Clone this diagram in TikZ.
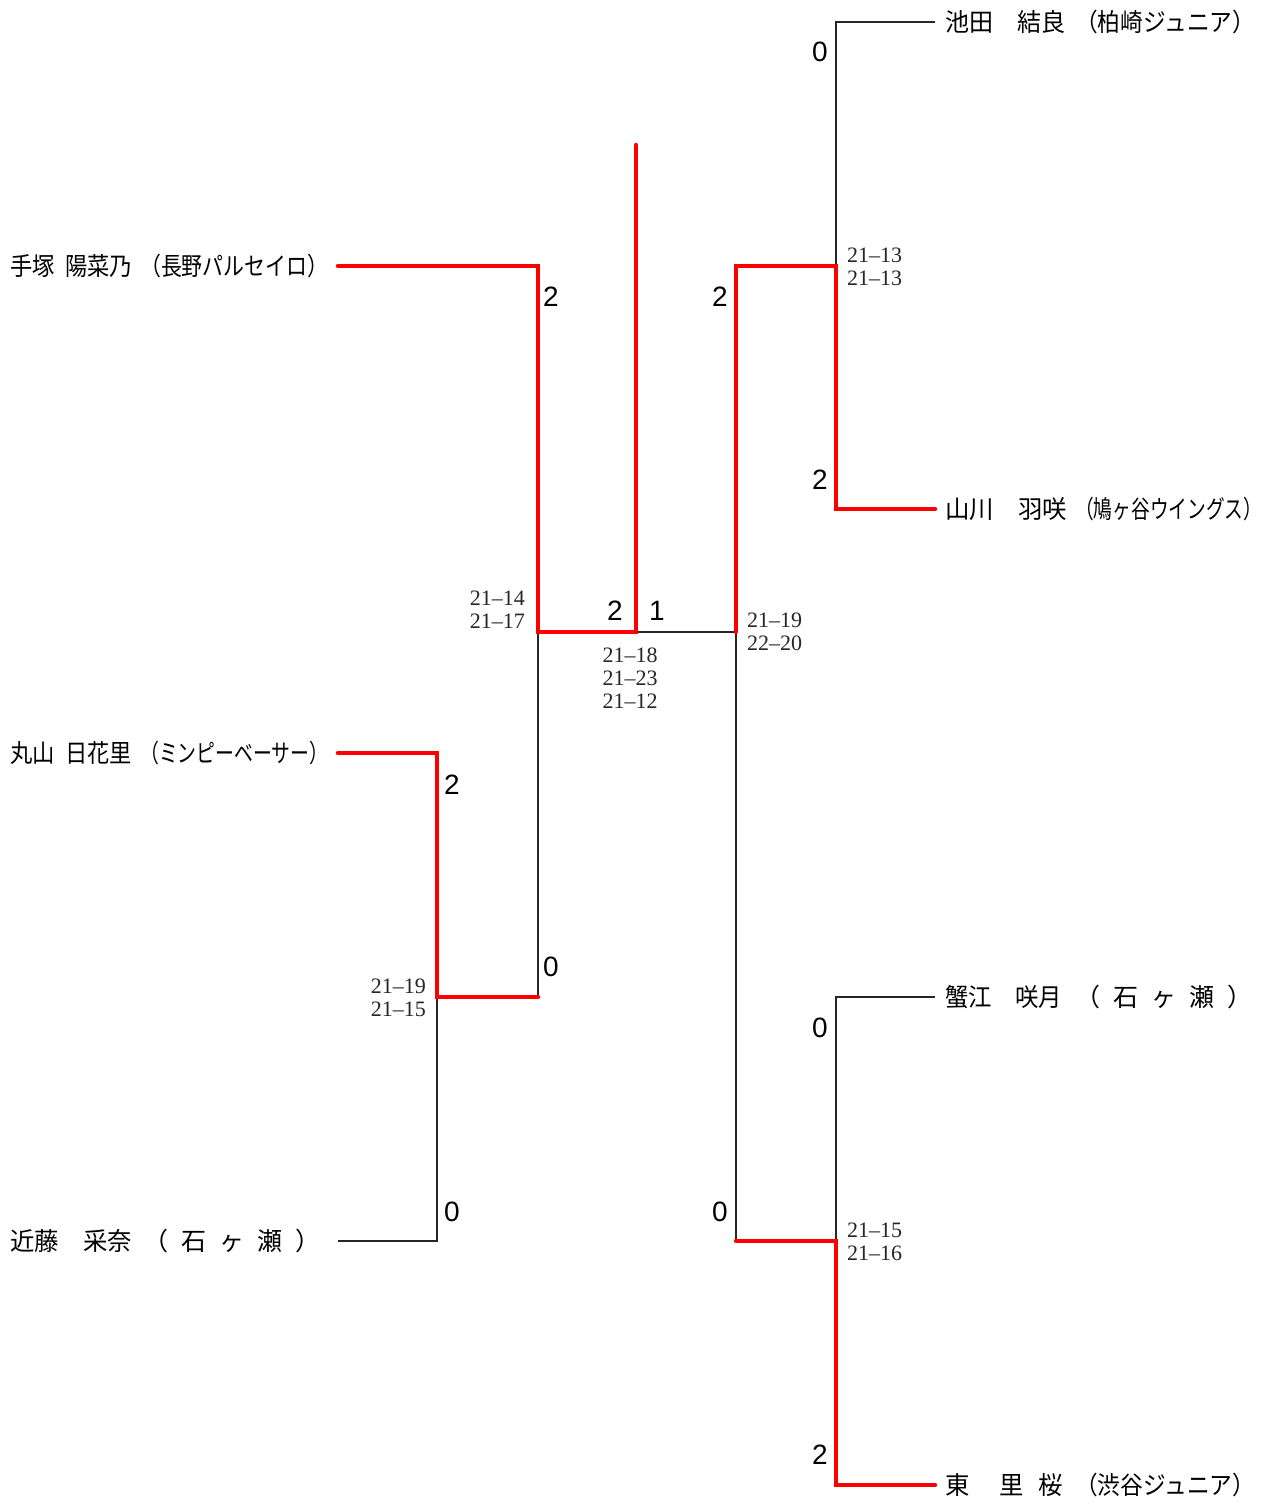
\documentclass[tikz,border=0pt]{standalone}
\usepackage{fontspec}
\setmainfont{Liberation Serif}
\newfontfamily\jpfont{Noto Sans CJK JP}
\newfontfamily\digfont{Liberation Sans}
\newlength\fitlen
\newcommand\fitto[2]{\settowidth\fitlen{#2}\pgfmathsetmacro\fitsx{#1/\fitlen}\scalebox{\fitsx}[1]{#2}}
\begin{document}
\begin{tikzpicture}[x=1pt,y=-1pt,
  loss/.style={line width=1.2pt, black!85},
  win/.style={line width=4.5pt, red, line cap=round, line join=miter},
  pname/.style={font=\jpfont\fontsize{25}{28}\selectfont, inner sep=0pt, anchor=west},
  pts/.style={font=\digfont\fontsize{28}{30}\selectfont, inner sep=0pt},
  game/.style={font=\fontsize{22}{23}\selectfont, inner sep=0pt, text=black!85}]
\useasboundingbox (0,0) rectangle (1265,1506);

% names left
\node[pname] (n1) at (10,266) {\fitto{122pt}{手塚\hspace{12pt}陽菜乃}};
\node[pname] (f1) at (140,266) {\fitto{188pt}{（長野パルセイロ）}};
\node[pname] (n2) at (10,753) {\fitto{122pt}{丸山\hspace{12pt}日花里}};
\node[pname] (f2) at (140,753) {\fitto{188pt}{（ミンピーベーサー）}};
\node[pname] (n3) at (10,1241) {\fitto{122pt}{近藤\hspace{25pt}采奈}};
\node[pname] (f3) at (143,1241) {\makebox[177pt]{（\hfill 石\hfill ヶ\hfill 瀬\hfill ）}};
% names right
\node[pname] (n4) at (945,22) {\fitto{120pt}{池田\hspace{25pt}結良}};
\node[pname] (f4) at (1075,22) {\fitto{180pt}{（柏崎ジュニア）}};
\node[pname] (n5) at (945,509) {\fitto{122pt}{山川\hspace{25pt}羽咲}};
\node[pname] (f5) at (1075,509) {\fitto{187pt}{（鳩ヶ谷ウイングス）}};
\node[pname] (n6) at (945,997) {\fitto{117pt}{蟹江\hspace{25pt}咲月}};
\node[pname] (f6) at (1075,997) {\makebox[177pt]{（\hfill 石\hfill ヶ\hfill 瀬\hfill ）}};
\node[pname] (n7) at (945,1485) {\fitto{118pt}{東\hspace{31pt}里\hspace{15pt}桜}};
\node[pname] (f7) at (1075,1485) {\fitto{180pt}{（渋谷ジュニア）}};

% bracket points
\coordinate (L1) at (338,266);
\coordinate (L2) at (338,753);
\coordinate (L3) at (338,1241);
\coordinate (a1) at (437,753);
\coordinate (a3) at (437,1241);
\coordinate (aw) at (437,997);
\coordinate (b1) at (538,266);
\coordinate (bw) at (538,632);
\coordinate (b2) at (538,997);
\coordinate (f) at (636,632);
\coordinate (ftop) at (636,145);
\coordinate (c1) at (736,266);
\coordinate (cw) at (736,632);
\coordinate (c2) at (736,1241);
\coordinate (d1) at (836,22);
\coordinate (d2) at (836,509);
\coordinate (dw) at (836,266);
\coordinate (R1) at (935,22);
\coordinate (R2) at (935,509);
\coordinate (e1) at (836,997);
\coordinate (e2) at (836,1485);
\coordinate (ew) at (836,1241);
\coordinate (R3) at (935,997);
\coordinate (R4) at (935,1485);

% losing lines
\draw[loss] (L3) -- (a3) -- (aw);
\draw[loss] (b2) -- (bw);
\draw[loss] (f) -- (cw) -- (c2);
\draw[loss] (R1) -- (d1) -- (dw);
\draw[loss] (R3) -- (e1) -- (ew);

% winning lines
\draw[win] (L1) -- (b1) -- (bw) -- (f) -- (ftop);
\draw[win] (L2) -- (a1) -- (aw) -- (b2);
\draw[win] (R2) -- (d2) -- (dw) -- (c1) -- (cw);
\draw[win] (R4) -- (e2) -- (ew) -- (c2);

% match points
\node[pts] (p1) at (551,297) {2};
\node[pts] (p2) at (551,967) {0};
\node[pts] (p3) at (452,785) {2};
\node[pts] (p4) at (452,1212) {0};
\node[pts] (p5) at (615,611) {2};
\node[pts] (p6) at (657,611) {1};
\node[pts] (p7) at (720,297) {2};
\node[pts] (p8) at (720,1212) {0};
\node[pts] (p9) at (820,52) {0};
\node[pts] (p10) at (820,480) {2};
\node[pts] (p11) at (820,1028) {0};
\node[pts] (p12) at (820,1455) {2};

% game scores
\node[game, anchor=east, align=right] (g1) at (525,610) {21–14\\21–17};
\node[game, anchor=east, align=right] (g2) at (426,998) {21–19\\21–15};
\node[game, align=center] (g3) at (630,678) {21–18\\21–23\\21–12};
\node[game, anchor=west, align=left] (g4) at (747,632) {21–19\\22–20};
\node[game, anchor=west, align=left] (g5) at (847,267) {21–13\\21–13};
\node[game, anchor=west, align=left] (g6) at (847,1242) {21–15\\21–16};
\end{tikzpicture}
\end{document}
